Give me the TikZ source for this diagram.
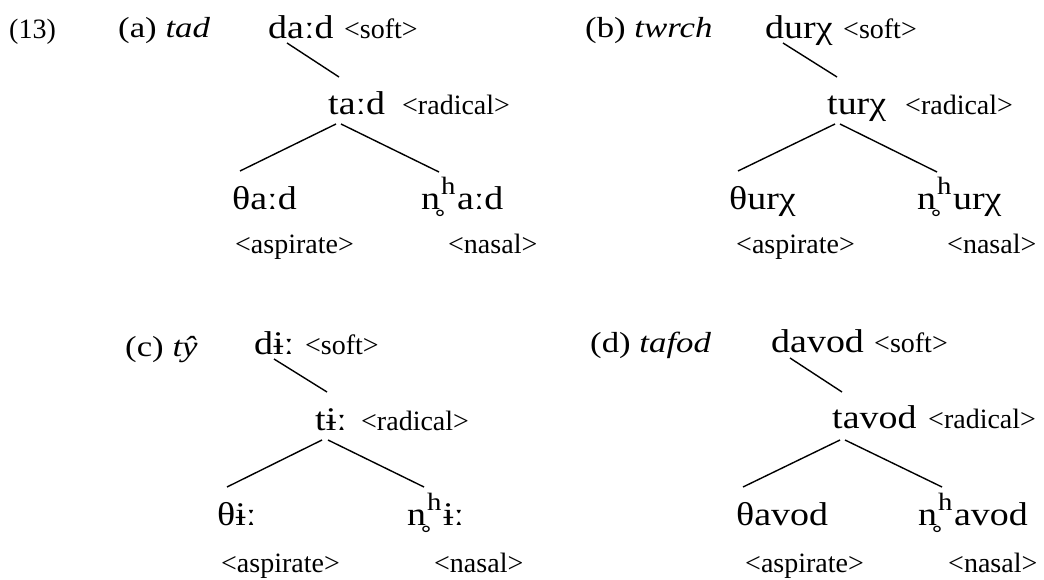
\documentclass[tikz,border=0pt]{standalone}
\usepackage{fontspec}
\setmainfont{Liberation Serif}
\newfontfamily\ipafont{Liberation Serif}[FakeStretch=1.15]
\newfontfamily\labfont{Liberation Serif}[FakeStretch=1.2]
\newcommand\asph{\kern1pt\raisebox{15pt}{\fontsize{25}{25}\selectfont h}\kern1.5pt}
\begin{document}
\begin{tikzpicture}[x=1pt,y=-1pt,
  ipa/.style={anchor=base west,inner sep=0pt,font=\ipafont\fontsize{33}{33}\selectfont},
  tag/.style={anchor=base west,inner sep=0pt,font=\fontsize{28}{28}\selectfont},
  lab/.style={anchor=base west,inner sep=0pt,font=\labfont\fontsize{29}{29}\selectfont},
  branch/.style={line width=1.4pt,black}]
\useasboundingbox (0,0) rectangle (1044,580);
\node[anchor=base west,inner sep=0pt,font=\fontsize{28}{28}\selectfont] (num) at (9,39) {(13)};
% (a)
\node[lab] (alab) at (118,38) {(a) \textit{tad}};
\node[ipa] (a1) at (268,39) {daːd};
\node[tag] (a1t) at (344,39) {<soft>};
\node[ipa] (a2) at (328,115) {taːd};
\node[tag] (a2t) at (402,115) {<radical>};
\node[ipa] (a3) at (232,210) {θaːd};
\node[ipa] (a4) at (421,210) {n̥\asph aːd};
\node[tag] (a3t) at (235,253) {<aspirate>};
\node[tag] (a4t) at (448,253) {<nasal>};
\draw[branch] ([shift={(19,4)}]a1.base west) -- ([shift={(11,-38)}]a2.base west);
\draw[branch] ([shift={(8,9)}]a2.base west) -- ([shift={(8,-39)}]a3.base west);
\draw[branch] ([shift={(13,9)}]a2.base west) -- ([shift={(18,-38)}]a4.base west);
% (b)
\node[lab] (blab) at (585,38) {(b) \textit{twrch}};
\node[ipa] (b1) at (765,39) {durχ};
\node[tag] (b1t) at (843,39) {<soft>};
\node[ipa] (b2) at (827,115) {turχ};
\node[tag] (b2t) at (905,115) {<radical>};
\node[ipa] (b3) at (729,210) {θurχ};
\node[ipa] (b4) at (917,210) {n̥\asph urχ};
\node[tag] (b3t) at (736,253) {<aspirate>};
\node[tag] (b4t) at (947,253) {<nasal>};
\draw[branch] ([shift={(18,4)}]b1.base west) -- ([shift={(10,-38)}]b2.base west);
\draw[branch] ([shift={(8,9)}]b2.base west) -- ([shift={(9,-39)}]b3.base west);
\draw[branch] ([shift={(13,9)}]b2.base west) -- ([shift={(20,-38)}]b4.base west);
% (c)
\node[lab] (clab) at (125,356) {(c) \textit{tŷ}};
\node[ipa] (c1) at (254,354) {dɨː};
\node[tag] (c1t) at (305,354) {<soft>};
\node[ipa] (c2) at (315,430) {tɨː};
\node[tag] (c2t) at (361,430) {<radical>};
\node[ipa] (c3) at (217,525) {θɨː};
\node[ipa] (c4) at (407,525) {n̥\asph ɨː};
\node[tag] (c3t) at (221,572) {<aspirate>};
\node[tag] (c4t) at (434,572) {<nasal>};
\draw[branch] ([shift={(20,5)}]c1.base west) -- ([shift={(12,-38)}]c2.base west);
\draw[branch] ([shift={(7,10)}]c2.base west) -- ([shift={(10,-38)}]c3.base west);
\draw[branch] ([shift={(13,10)}]c2.base west) -- ([shift={(17,-38)}]c4.base west);
% (d)
\node[lab] (dlab) at (590,352) {(d) \textit{tafod}};
\node[ipa] (d1) at (771,352) {davod};
\node[tag] (d1t) at (874,352) {<soft>};
\node[ipa] (d2) at (832,428) {tavod};
\node[tag] (d2t) at (928,428) {<radical>};
\node[ipa] (d3) at (736,525) {θavod};
\node[ipa] (d4) at (918,525) {n̥\asph avod};
\node[tag] (d3t) at (745,572) {<aspirate>};
\node[tag] (d4t) at (948,572) {<nasal>};
\draw[branch] ([shift={(19,6)}]d1.base west) -- ([shift={(10,-36)}]d2.base west);
\draw[branch] ([shift={(8,12)}]d2.base west) -- ([shift={(7,-38)}]d3.base west);
\draw[branch] ([shift={(13,12)}]d2.base west) -- ([shift={(24,-38)}]d4.base west);
\end{tikzpicture}
\end{document}
